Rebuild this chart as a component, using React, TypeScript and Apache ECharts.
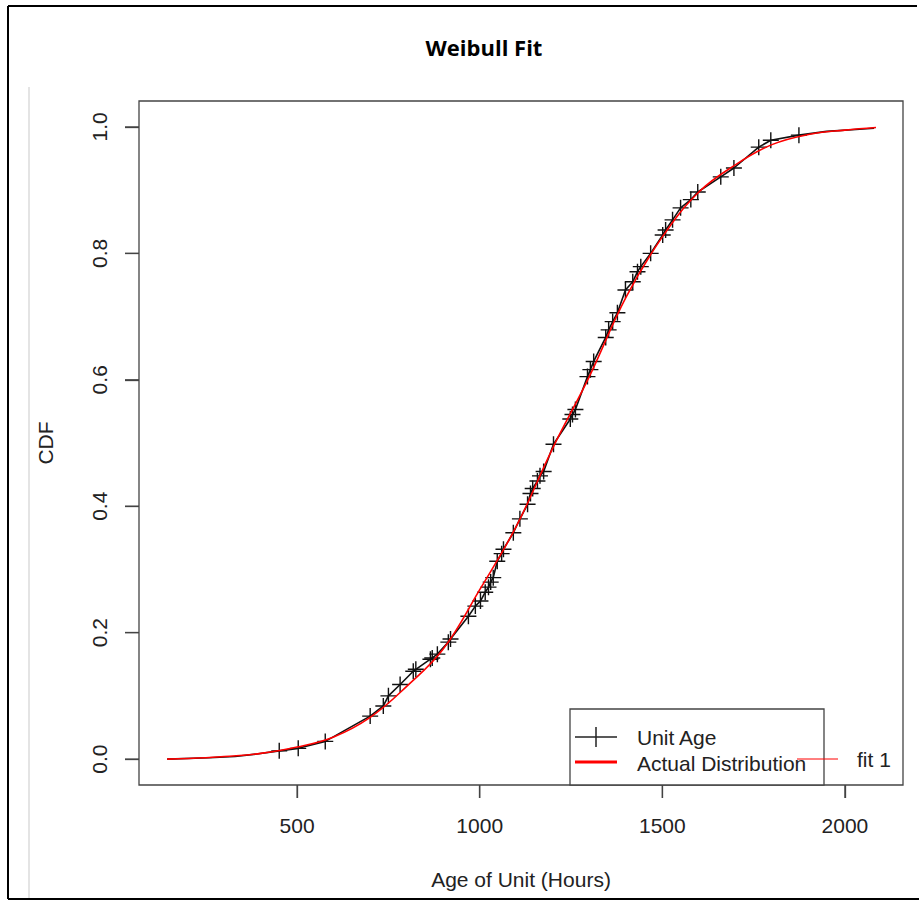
import React, { useEffect, useRef } from "react";
import * as echarts from "echarts";

// Empirical CDF (Unit Age) points: hours, cumulative fraction, marker shown?
const empHours = [144, 260, 330, 390, 451, 503, 577, 700, 736, 750, 782, 818, 825, 865, 870, 884, 914, 920, 969, 988, 1002, 1015, 1024, 1030, 1037, 1048, 1060, 1065, 1092, 1110, 1131, 1139, 1145, 1158, 1165, 1175, 1202, 1248, 1254, 1262, 1295, 1303, 1312, 1345, 1353, 1364, 1377, 1399, 1419, 1432, 1441, 1468, 1501, 1509, 1528, 1550, 1578, 1597, 1660, 1696, 1764, 1797, 1874, 1950, 2080];
const empCdf = [0.0, 0.002, 0.004, 0.008, 0.013, 0.017, 0.028, 0.068, 0.084, 0.1, 0.118, 0.139, 0.142, 0.158, 0.16, 0.166, 0.185, 0.19, 0.226, 0.242, 0.25, 0.264, 0.272, 0.28, 0.287, 0.313, 0.325, 0.332, 0.358, 0.38, 0.403, 0.42, 0.428, 0.44, 0.448, 0.455, 0.498, 0.538, 0.545, 0.553, 0.605, 0.616, 0.629, 0.667, 0.679, 0.692, 0.706, 0.742, 0.755, 0.771, 0.779, 0.8, 0.829, 0.837, 0.853, 0.872, 0.885, 0.897, 0.921, 0.935, 0.968, 0.979, 0.987, 0.993, 0.998];
const empMarker = [false, false, false, false, true, true, true, true, true, true, true, true, true, true, true, true, true, true, true, true, true, true, true, true, true, true, true, true, true, true, true, true, true, true, true, true, true, true, true, true, true, true, true, true, true, true, true, true, true, true, true, true, true, true, true, true, true, true, true, true, true, true, true, false, false];

// Fitted Weibull CDF (Actual Distribution)
const fitHours = [144, 250, 300, 400, 500, 600, 700, 800, 900, 1000, 1100, 1200, 1300, 1400, 1500, 1600, 1700, 1800, 1900, 2000, 2085];
const fitCdf = [0.0, 0.002, 0.004, 0.009, 0.019, 0.035, 0.066, 0.115, 0.174, 0.268, 0.368, 0.492, 0.605, 0.73, 0.826, 0.897, 0.94, 0.972, 0.988, 0.995, 0.999];

const xTicks = [500, 1000, 1500, 2000];
const yTicks = [0, 0.2, 0.4, 0.6, 0.8, 1.0];
const X_MIN = 67;
const X_MAX = 2159;
const Y_MIN = -0.041;
const Y_MAX = 1.041;

const titleText = "Weibull Fit";
const xName = "Age of Unit (Hours)";
const yName = "CDF";
const legendNames = ["Unit Age", "Actual Distribution", "fit 1"];

const FONT = "'Liberation Sans', Arial, sans-serif";
const TXT = "#222";
const AXC = "#444";
const PLUS = "path://M0,-10L0,10M-10,0L10,0";

const GRID = { left: 139, top: 101, right: 16, bottom: 115 };
const W = 919;
const H = 900;
const X_TICK_LEN = 13;
const Y_TICK_LEN = 14;

export default function App() {
  const ref = useRef<HTMLDivElement>(null);
  useEffect(() => {
    document.body.style.margin = "0";
    if (!ref.current) return;
    const chart = echarts.init(ref.current, null, { renderer: "svg" });
    const empData = empHours.map((h, i) =>
      empMarker[i]
        ? { value: [h, empCdf[i]] }
        : { value: [h, empCdf[i]], symbol: "none" }
    );
    const fitData = fitHours.map((h, i) => [h, fitCdf[i]]);

    chart.setOption({
      animation: false,
      backgroundColor: "#fff",
      title: {
        text: titleText,
        left: 479,
        top: 31,
        textAlign: "center",
        textStyle: {
          fontFamily: "'Open Sans', 'Noto Sans', sans-serif",
          fontWeight: "bold",
          fontSize: 22,
          color: "#000",
        },
      },
      grid: {
        ...GRID,
        show: true,
        borderColor: AXC,
        borderWidth: 1.3,
        backgroundColor: "transparent",
      },
      xAxis: {
        type: "value",
        position: "bottom",
        min: X_MIN,
        max: X_MAX,
        name: xName,
        nameLocation: "middle",
        nameGap: 84,
        nameTextStyle: { fontFamily: FONT, fontSize: 21, color: TXT },
        axisLine: { show: false, onZero: false },
        splitLine: { show: false },
        axisTick: {
          show: true,
          inside: false,
          length: X_TICK_LEN,
          customValues: xTicks,
          lineStyle: { color: AXC, width: 1.3 },
        },
        axisLabel: {
          show: true,
          customValues: xTicks,
          margin: 30,
          fontFamily: FONT,
          fontSize: 21,
          color: TXT,
          formatter: (v: number) => String(v),
        },
      },
      yAxis: {
        type: "value",
        position: "left",
        min: Y_MIN,
        max: Y_MAX,
        name: yName,
        nameLocation: "middle",
        nameGap: 83,
        nameRotate: 90,
        nameTextStyle: { fontFamily: FONT, fontSize: 21, color: TXT },
        axisLine: { show: false, onZero: false },
        splitLine: { show: false },
        axisTick: {
          show: true,
          inside: false,
          length: Y_TICK_LEN,
          customValues: yTicks,
          lineStyle: { color: AXC, width: 1.3 },
        },
        axisLabel: {
          show: true,
          customValues: yTicks,
          rotate: 90,
          margin: 29,
          fontFamily: FONT,
          fontSize: 21,
          color: TXT,
          formatter: (v: number) => v.toFixed(1),
        },
      },
      series: [
        {
          name: legendNames[0],
          type: "line",
          data: empData,
          symbol: PLUS,
          symbolSize: 16,
          showAllSymbol: true,
          lineStyle: { color: "#111", width: 1.6 },
          itemStyle: { color: "transparent", borderColor: "#111", borderWidth: 1.4 },
          z: 2,
        },
        {
          name: legendNames[1],
          type: "line",
          data: fitData,
          smooth: 0.4,
          symbol: "none",
          lineStyle: { color: "#ff0000", width: 1.6 },
          z: 3,
        },
        {
          name: "xTickMarks",
          type: "custom",
          data: xTicks.map((t) => [t, Y_MIN]),
          clip: false,
          silent: true,
          z: 30,
          renderItem: (_params: any, api: any) => {
            const p = api.coord([api.value(0), api.value(1)]);
            return {
              type: "line",
              shape: { x1: p[0], y1: p[1], x2: p[0], y2: p[1] + X_TICK_LEN },
              style: { stroke: AXC, lineWidth: 1.3 },
            };
          },
        },
        {
          name: "yTickMarks",
          type: "custom",
          data: yTicks.map((t) => [X_MIN, t]),
          clip: false,
          silent: true,
          z: 30,
          renderItem: (_params: any, api: any) => {
            const p = api.coord([api.value(0), api.value(1)]);
            return {
              type: "line",
              shape: { x1: p[0] - Y_TICK_LEN, y1: p[1], x2: p[0], y2: p[1] },
              style: { stroke: AXC, lineWidth: 1.3 },
            };
          },
        },
      ],
      graphic: [
        { id: "f1", type: "line", shape: { x1: 8, y1: 6, x2: 917, y2: 6 }, style: { stroke: "#000", lineWidth: 2 } },
        { id: "f2", type: "line", shape: { x1: 8, y1: 6, x2: 8, y2: 899 }, style: { stroke: "#000", lineWidth: 2 } },
        { id: "f3", type: "line", shape: { x1: 8, y1: 899, x2: 919, y2: 899 }, style: { stroke: "#000", lineWidth: 2 } },
        { id: "f4", type: "line", shape: { x1: 29, y1: 87, x2: 29, y2: 898 }, style: { stroke: "#e4e4e4", lineWidth: 2 } },
        {
          id: "legend",
          type: "group",
          z: 10,
          children: [
            { type: "rect", shape: { x: 570, y: 709, width: 254, height: 76 }, style: { fill: "#fff", stroke: AXC, lineWidth: 1.3 } },
            { type: "line", shape: { x1: 575, y1: 737, x2: 617, y2: 737 }, style: { stroke: "#222", lineWidth: 1.5 } },
            { type: "line", shape: { x1: 596, y1: 727, x2: 596, y2: 747 }, style: { stroke: "#222", lineWidth: 1.5 } },
            { type: "text", x: 637, y: 737, style: { text: legendNames[0], font: `21px ${FONT}`, fill: TXT, verticalAlign: "middle", align: "left" } },
            { type: "line", shape: { x1: 575, y1: 762, x2: 617, y2: 762 }, style: { stroke: "#ff0000", lineWidth: 3 } },
            { type: "text", x: 637, y: 763, style: { text: legendNames[1], font: `21px ${FONT}`, fill: TXT, verticalAlign: "middle", align: "left" } },
            { type: "line", shape: { x1: 797, y1: 759, x2: 838, y2: 759 }, style: { stroke: "#ff0000", lineWidth: 1 } },
            { type: "text", x: 857, y: 759, style: { text: legendNames[2], font: `21px ${FONT}`, fill: TXT, verticalAlign: "middle", align: "left" } },
          ],
        },
      ],
    });

    return () => chart.dispose();
  }, []);
  return <div ref={ref} style={{ width: W, height: H }} />;
}
